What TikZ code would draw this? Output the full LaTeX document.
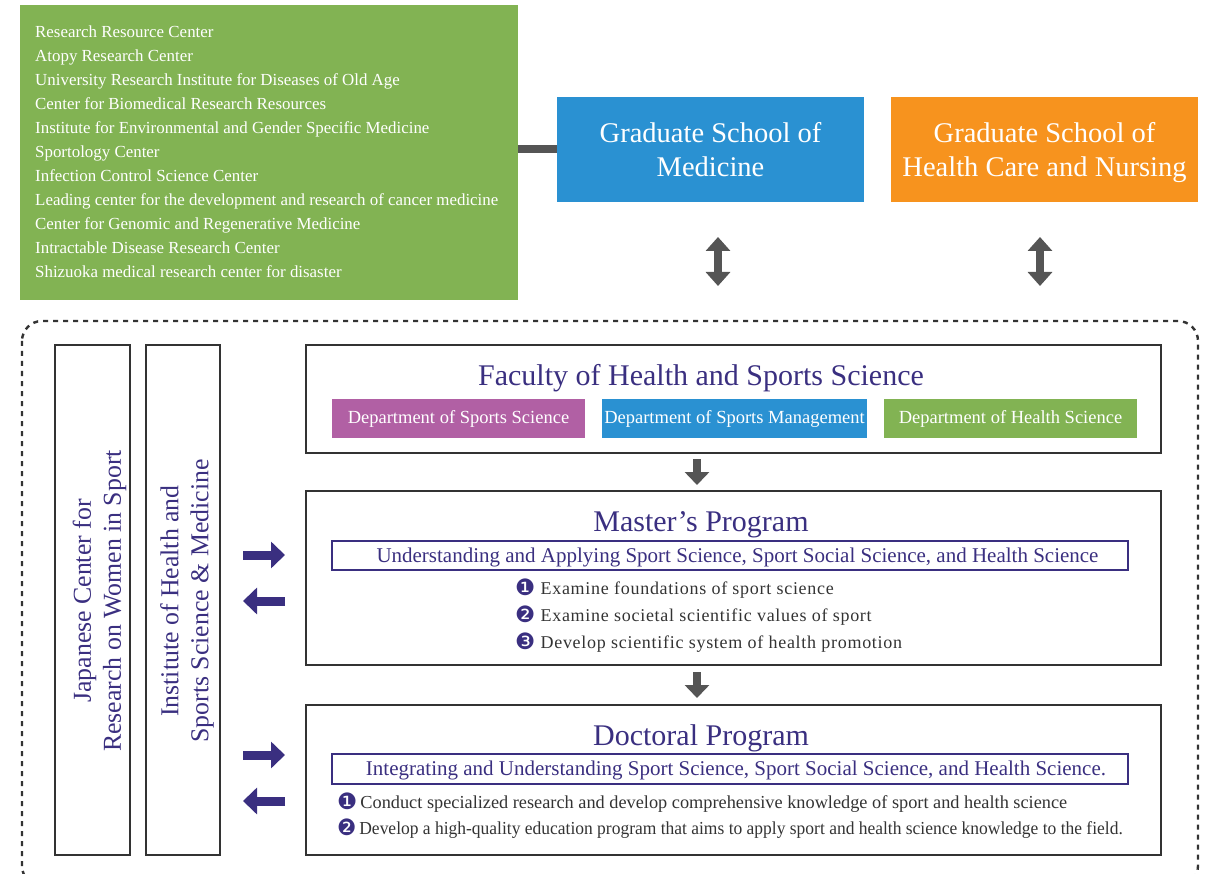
\documentclass[tikz,border=0pt]{standalone}
\usepackage{fontspec}
\setmainfont{Liberation Serif}
\newfontfamily\symfont{DejaVu Sans}
\newfontfamily\itemfont[LetterSpace=4]{Liberation Serif}
\usetikzlibrary{arrows.meta}
\definecolor{grn}{HTML}{82B353}
\definecolor{blu}{HTML}{2A91D2}
\definecolor{org}{HTML}{F7931E}
\definecolor{pur}{HTML}{3A2F80}
\definecolor{dgray}{HTML}{555555}
\definecolor{mag}{HTML}{B160A4}
\definecolor{txt}{HTML}{333333}
\newcommand{\cnum}[1]{{\symfont\color{pur}\fontsize{22.5}{20}\selectfont\raisebox{-0.8pt}{#1}}}
\tikzset{
  fillbox/.style={draw=none, inner sep=0, align=center, text=white},
  framebox/.style={draw=txt, line width=1.2pt, inner sep=0},
  subbox/.style={draw=pur, line width=1.2pt, inner sep=0},
  garrow/.style={draw=dgray, line width=8pt, {Triangle[width=24pt,length=14pt]}-{Triangle[width=24pt,length=14pt]}},
  downarrow/.style={draw=dgray, line width=8pt, -{Triangle[width=24pt,length=13pt]}},
  parrow/.style={draw=pur, line width=9pt, -{Triangle[width=26pt,length=14pt]}},
  ttl/.style={text=pur, font=\fontsize{30}{32}\selectfont, inner sep=0},
  subt/.style={text=pur, font=\fontsize{21}{24}\selectfont, inner sep=0},
  item/.style={text=txt, anchor=west, inner sep=0},
  vtext/.style={text=pur, rotate=90, align=center, font=\fontsize{25.8}{30}\selectfont, inner sep=0},
  dept/.style={fillbox, minimum height=39pt, font=\fontsize{18.5}{20}\selectfont},
  school/.style={fillbox, minimum width=307pt, minimum height=105pt},
  schooltext/.style={text=white, align=center, inner sep=0, font=\fontsize{28.5}{34}\selectfont}
}
\begin{document}
\begin{tikzpicture}[x=1pt,y=-1pt]
\useasboundingbox (0,0) rectangle (1207,874);
% top
\node[fillbox, fill=grn, minimum width=498pt, minimum height=295pt] (res) at (269,152.5) {};
\node[anchor=north west, align=left, text=white, inner sep=0, font=\fontsize{16.9}{24}\selectfont] (reslist) at (35,25.5) {Research Resource Center\\
Atopy Research Center\\
University Research Institute for Diseases of Old Age\\
Center for Biomedical Research Resources\\
Institute for Environmental and Gender Specific Medicine\\
Sportology Center\\
Infection Control Science Center\\
Leading center for the development and research of cancer medicine\\
Center for Genomic and Regenerative Medicine\\
Intractable Disease Research Center\\
Shizuoka medical research center for disaster};
\node[school, fill=blu] (med) at (710.5,149.5) {};
\node[school, fill=org] (nurs) at (1044.5,149.5) {};
\node[schooltext] (medt) at (710.5,152.5) {\strut Graduate School of\\\strut Medicine};
\node[schooltext] (nurst) at (1044.5,152.5) {\strut Graduate School of\\\strut Health Care and Nursing};
\draw[dgray, line width=8pt] (med.west -| res.east) -- (med.west);
\coordinate (m1) at (718,237);
\coordinate (m2) at (718,286);
\coordinate (n1) at (1040,237);
\coordinate (n2) at (1040,286);
\draw[garrow] (m1) -- (m2);
\draw[garrow] (n1) -- (n2);
% dotted frame
\draw[txt, line width=2.4pt, dash pattern=on 5pt off 5pt, rounded corners=20pt] (22,321) rectangle (1198,886);
% left vertical boxes
\node[framebox, minimum width=75pt, minimum height=510pt] (jc) at (92.5,600) {};
\node[framebox, minimum width=74pt, minimum height=510pt] (ih) at (183,600) {};
\node[vtext] (jct) at (99.5,601) {Japanese Center for\\Research on Women in Sport};
\node[vtext] (iht) at (187,601) {Institute of Health and\\Sports Science \& Medicine};
% faculty
\node[framebox, minimum width=855pt, minimum height=108pt] (fac) at (733.5,399) {};
\node[ttl] (fact) at (701,378) {Faculty of Health and Sports Science};
\node[dept, fill=mag, minimum width=253pt] (d1) at (458.5,418.5) {Department of Sports Science};
\node[dept, fill=blu, minimum width=265pt] (d2) at (734.5,418.5) {Department of Sports Management};
\node[dept, fill=grn, minimum width=253pt] (d3) at (1010.5,418.5) {Department of Health Science};
% master
\node[framebox, minimum width=855pt, minimum height=174pt] (mas) at (733.5,578) {};
\node[ttl] (mast) at (701,524.5) {Master’s Program};
\node[subbox, minimum width=796pt, minimum height=29pt] (masb) at (730,555.5) {};
\node[subt] (mass) at (737.5,557) {Understanding and Applying Sport Science, Sport Social Science, and Health Science};
\node[item, font=\itemfont\fontsize{18}{20}\selectfont] (mi1) at (515,588.5) {\cnum{❶} Examine foundations of sport science};
\node[item, font=\itemfont\fontsize{18}{20}\selectfont] (mi2) at (515,615.5) {\cnum{❷} Examine societal scientific values of sport};
\node[item, font=\itemfont\fontsize{18}{20}\selectfont] (mi3) at (515,642.5) {\cnum{❸} Develop scientific system of health promotion};
% doctoral
\node[framebox, minimum width=855pt, minimum height=150pt] (doc) at (733.5,780) {};
\node[ttl] (doct) at (701,738.5) {Doctoral Program};
\node[subbox, minimum width=796pt, minimum height=30pt] (docb) at (730,769) {};
\node[subt] (docs) at (736,770.5) {Integrating and Understanding Sport Science, Sport Social Science, and Health Science.};
\node[item, font=\fontsize{18.3}{20}\selectfont] (di1) at (337,802.5) {\cnum{❶}\,Conduct specialized research and develop comprehensive knowledge of sport and health science};
\node[item, font=\fontsize{18.3}{20}\selectfont] (di2) at (337,828.5) {\scalebox{0.955}[1]{\cnum{❷}\,Develop a high-quality education program that aims to apply sport and health science knowledge to the field.}};
% down arrows
\coordinate (f1) at (697,459);
\coordinate (f2) at (697,485);
\coordinate (g1) at (697,672);
\coordinate (g2) at (697,698);
\draw[downarrow] (f1) -- (f2);
\draw[downarrow] (g1) -- (g2);
% purple arrows
\coordinate (pa1) at (243,555);
\coordinate (pa2) at (285,555);
\coordinate (pb1) at (285,601);
\coordinate (pb2) at (243,601);
\coordinate (pc1) at (243,755);
\coordinate (pc2) at (285,755);
\coordinate (pd1) at (285,801);
\coordinate (pd2) at (243,801);
\draw[parrow] (pa1) -- (pa2);
\draw[parrow] (pb1) -- (pb2);
\draw[parrow] (pc1) -- (pc2);
\draw[parrow] (pd1) -- (pd2);
\end{tikzpicture}
\end{document}
